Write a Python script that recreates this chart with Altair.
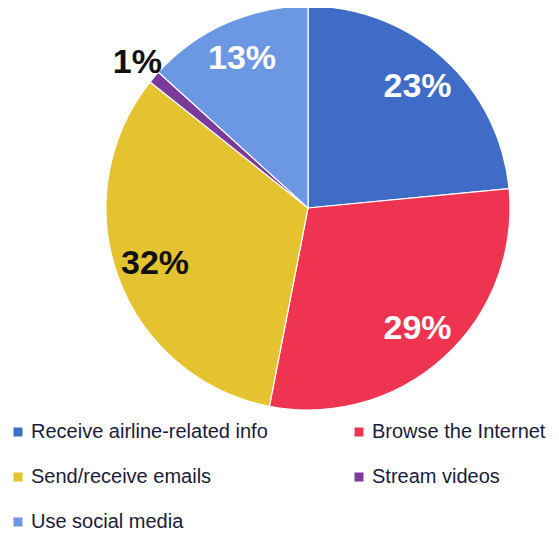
import altair as alt
import pandas as pd

categories = ["Receive airline-related info", "Browse the Internet", "Send/receive emails",
              "Stream videos", "Use social media"]
values = [23, 29, 32, 1, 13]
labels = ["23%", "29%", "32%", "1%", "13%"]
colors = ["#3F6CC6", "#EE3451", "#E5C230", "#7A3B9B", "#6C97E2"]

df = pd.DataFrame({"category": categories, "value": values, "label": labels,
                   "idx": list(range(len(categories)))})

CX, CY, R = 300, 200, 202

base = alt.Chart(df).encode(
    theta=alt.Theta("value:Q", stack=True),
    order=alt.Order("idx:Q"),
    x=alt.value(CX), y=alt.value(CY),
)

pie = base.mark_arc(outerRadius=R, stroke="white", strokeWidth=1.2).encode(
    color=alt.Color("category:N",
                    scale=alt.Scale(domain=categories, range=colors),
                    sort=categories,
                    legend=alt.Legend(
                        title=None, orient="none", legendX=0, legendY=414,
                        direction="horizontal",
                        columns=2, columnPadding=81, rowPadding=25,
                        symbolType="square", symbolSize=100, symbolStrokeWidth=1,
                        labelFont="Liberation Sans", labelFontSize=20,
                        labelColor="#1b1b3a", labelOffset=3, labelLimit=400,
                    ))
)

inner = base.transform_calculate(
    t="datum.label == '1%' ? '' : datum.label"
).mark_text(radius=163, font="Liberation Sans", fontSize=34, fontWeight="bold").encode(
    text="t:N",
    color=alt.condition("datum.label == '32%'", alt.value("#111111"), alt.value("white")),
)

outer = base.transform_calculate(
    t="datum.label == '1%' ? datum.label : ''"
).mark_text(radius=224, font="Liberation Sans", fontSize=34,
            fontWeight="bold", color="#111111").encode(
    text="t:N",
)

chart = alt.layer(pie, inner, outer).properties(
    width=543, height=526, padding=0, autosize=alt.AutoSizeParams(type="none")
).configure_view(stroke=None)

chart.save("out.html", embed_options={"renderer": "svg", "actions": False})
